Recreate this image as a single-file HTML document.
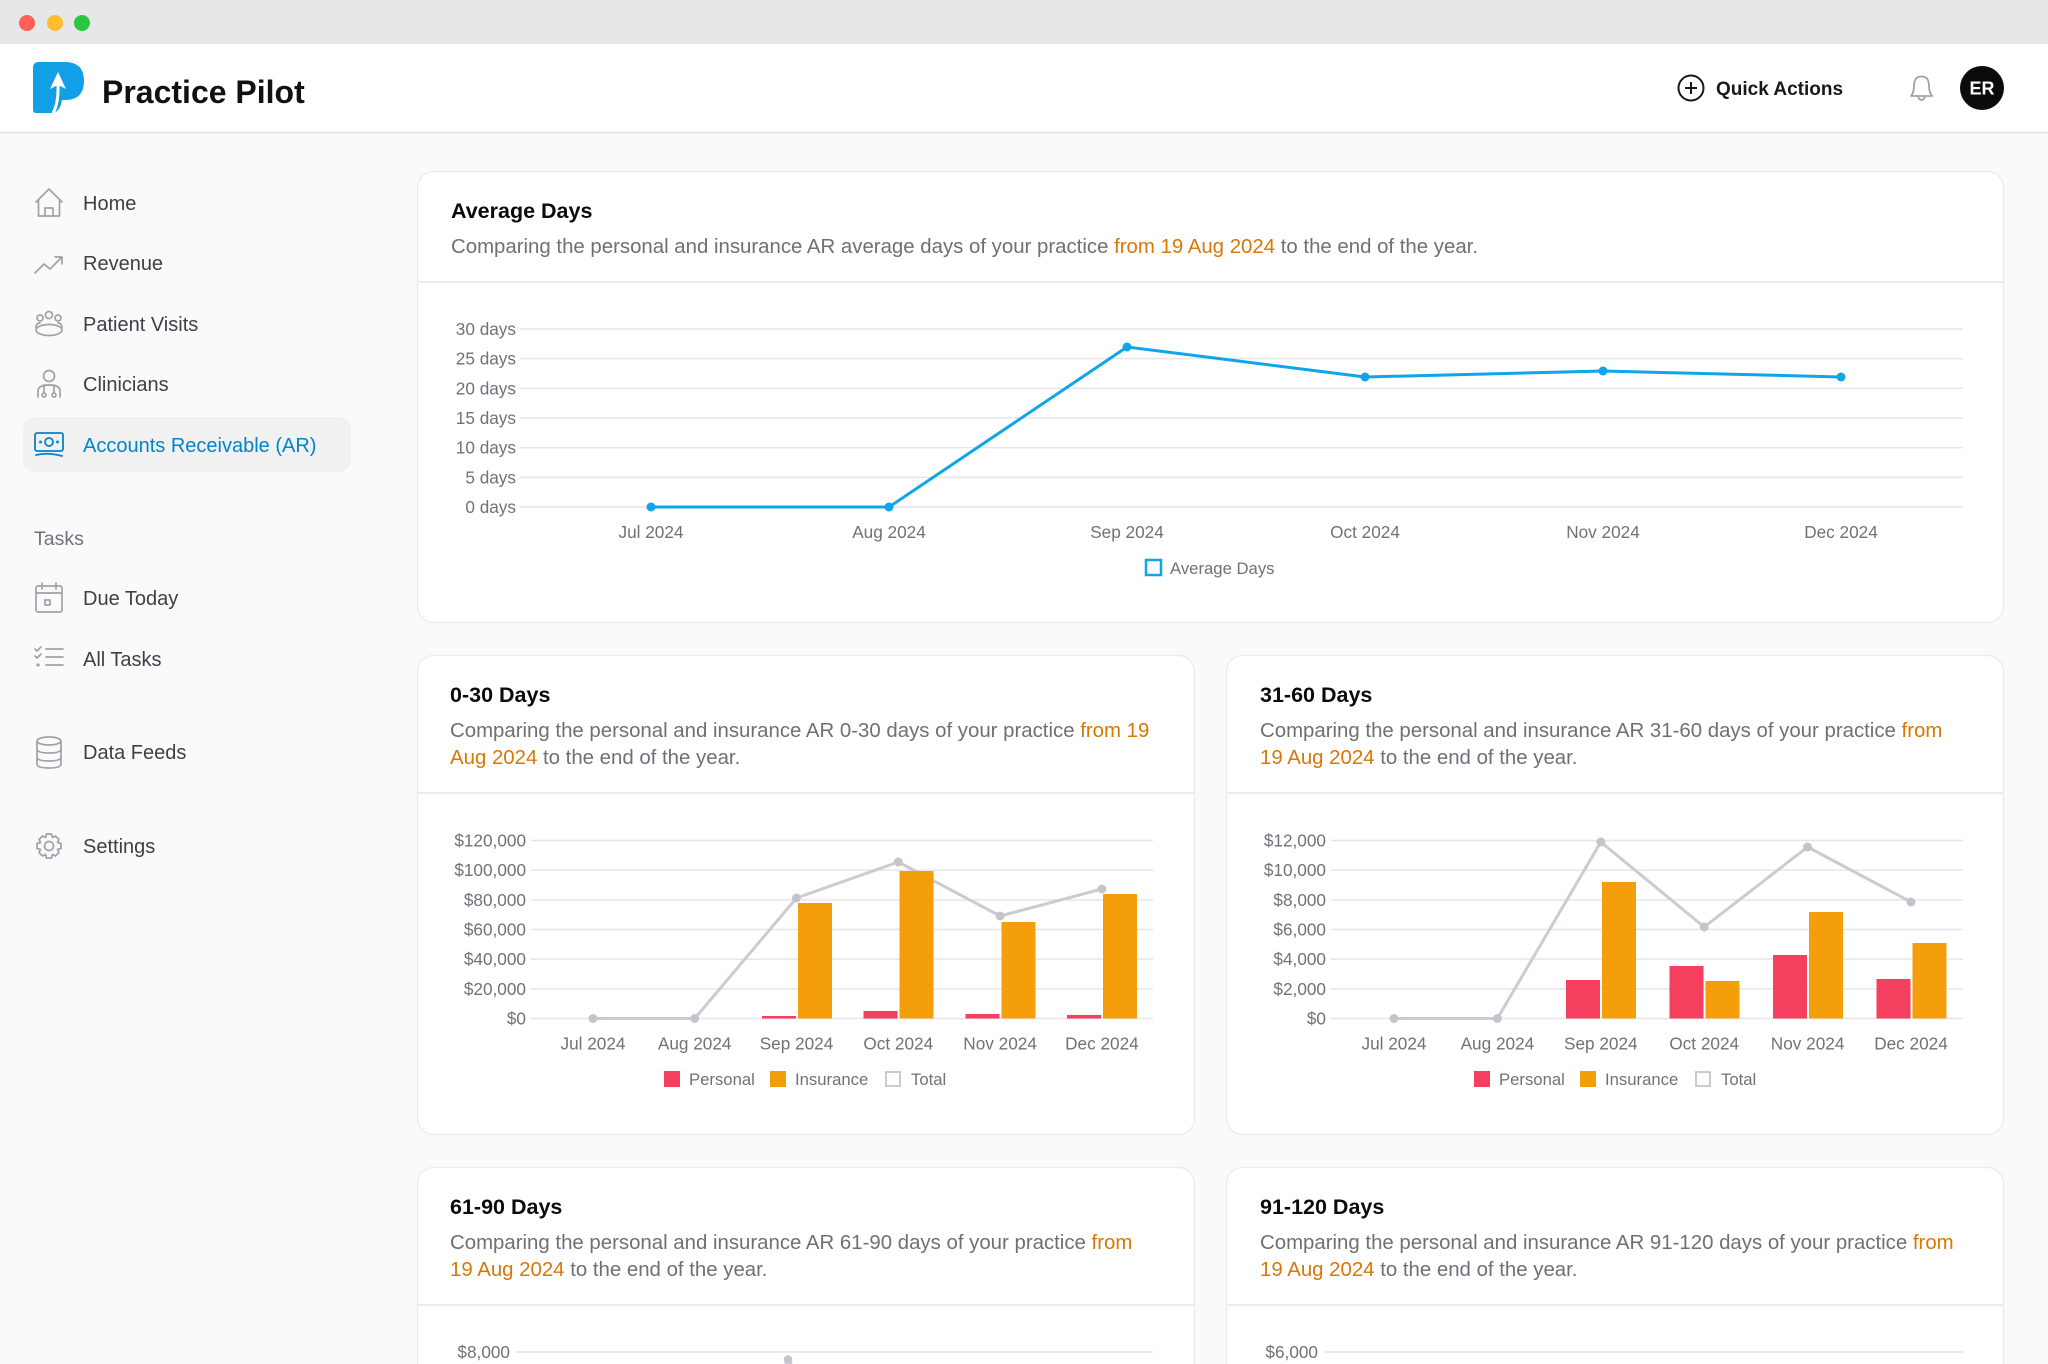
<!DOCTYPE html>
<html>
<head>
<meta charset="utf-8">
<style>
html,body{margin:0;padding:0;width:2048px;height:1364px;overflow:hidden;background:#fafafa;}
svg{display:block;}
text{font-family:"Liberation Sans",sans-serif;}
</style>
</head>
<body>
<svg width="2048" height="1364" viewBox="0 0 2048 1364" xmlns="http://www.w3.org/2000/svg">
  <!-- page bg -->
  <rect x="0" y="0" width="2048" height="1364" fill="#fafafa"/>
  <!-- title bar -->
  <rect x="0" y="0" width="2048" height="44" fill="#e7e7e7"/>
  <circle cx="27" cy="23" r="8" fill="#fe5f57"/>
  <circle cx="55" cy="23" r="8" fill="#febc2e"/>
  <circle cx="82" cy="23" r="8" fill="#28c840"/>
  <!-- header -->
  <rect x="0" y="44" width="2048" height="88" fill="#ffffff"/>
  <line x1="0" y1="132.5" x2="2048" y2="132.5" stroke="#e4e4e4" stroke-width="1.5"/>
  <!-- logo -->
  <g transform="translate(33,62)">
    <path d="M0,6 Q0,0 6,0 H32 Q51,0 51,19 Q51,38 32,38 H29 Q27,51 18,51 H3 Q0,51 0,48 Z" fill="#129fe6"/>
    <path d="M25,10 L17,27 L25,23 L33,27 Z" fill="#ffffff"/>
    <path d="M25,23 Q25.5,42 20,51" stroke="#ffffff" stroke-width="3" fill="none"/>
  </g>
  <text x="102" y="103" font-size="32" font-weight="700" fill="#111111">Practice Pilot</text>

  <!-- quick actions -->
  <circle cx="1691" cy="88" r="12.5" fill="none" stroke="#18181b" stroke-width="2"/>
  <line x1="1691" y1="82" x2="1691" y2="94" stroke="#18181b" stroke-width="2"/>
  <line x1="1685" y1="88" x2="1697" y2="88" stroke="#18181b" stroke-width="2"/>
  <text x="1716" y="95" font-size="19" font-weight="700" fill="#18181b">Quick Actions</text>
  <!-- bell -->
  <path d="M1911,96 Q1914,92 1914,86 Q1914,76.5 1921.5,76.5 Q1929,76.5 1929,86 Q1929,92 1932,96 Z" fill="none" stroke="#a1a1aa" stroke-width="1.8" stroke-linejoin="round"/>
  <path d="M1918,97 Q1921.5,103 1925,97" fill="none" stroke="#a1a1aa" stroke-width="1.8"/>
  <!-- avatar -->
  <circle cx="1982" cy="88" r="22" fill="#0b0b0b"/>
  <text x="1982" y="94.5" font-size="18" font-weight="700" fill="#ffffff" text-anchor="middle">ER</text>

  <!-- sidebar -->
  <rect x="23" y="417" width="328" height="55" rx="12" fill="#f1f1f1"/>
  <g fill="none" stroke="#a1a1aa" stroke-width="1.7" stroke-linecap="round" stroke-linejoin="round">
    <!-- home -->
    <path d="M36,202 L49,189 L62,202 M38.5,199.5 V216 H59.5 V199.5 M45,216 V208 H53 V216"/>
    <!-- revenue -->
    <path d="M35,273 L44,264 L50,269 L62,257 M55,257 H62 V264"/>
    <!-- patient visits -->
    <circle cx="40" cy="318" r="3"/>
    <circle cx="49" cy="315" r="3.5"/>
    <circle cx="58" cy="318" r="3"/>
    <path d="M36,328 Q36,323 40,323 M62,328 Q62,323 58,323"/>
    <ellipse cx="49" cy="330" rx="13" ry="5.5"/>
    <!-- clinicians -->
    <circle cx="49" cy="376" r="5.5"/>
    <path d="M38,397 V391 Q38,385 49,385 Q60,385 60,391 V397 M44,385 V392 M54,385 V392"/>
    <circle cx="44" cy="395" r="2"/>
    <circle cx="54" cy="395" r="2"/>
    <!-- due today -->
    <rect x="36" y="586" width="26" height="26" rx="2"/>
    <path d="M36,593 H62 M42,583 V589 M56,583 V589"/>
    <rect x="45" y="600" width="5" height="5"/>
    <!-- all tasks -->
    <path d="M35,649 L37,651 L41,647 M35,656 L37,658 L41,654 M46,649 H63 M46,657 H63 M46,665 H63"/>
    <circle cx="38" cy="665" r="0.8"/>
    <!-- data feeds -->
    <ellipse cx="49" cy="741" rx="12" ry="4"/>
    <path d="M37,741 V764 Q37,768 49,768 Q61,768 61,764 V741 M37,749 Q37,753 49,753 Q61,753 61,749 M37,757 Q37,761 49,761 Q61,761 61,757"/>
    <!-- settings -->
    <circle cx="49" cy="846" r="4.5"/>
    <path d="M46.5,834 L51.5,834 L52.5,837.5 L55.5,836 L59,839.5 L57.5,842.5 L61,843.5 L61,848.5 L57.5,849.5 L59,852.5 L55.5,856 L52.5,854.5 L51.5,858 L46.5,858 L45.5,854.5 L42.5,856 L39,852.5 L40.5,849.5 L37,848.5 L37,843.5 L40.5,842.5 L39,839.5 L42.5,836 L45.5,837.5 Z"/>
  </g>
  <!-- AR icon -->
  <g fill="none" stroke="#0284c7" stroke-width="1.8" stroke-linecap="round">
    <rect x="35" y="433" width="28" height="18" rx="2"/>
    <circle cx="49" cy="442" r="4"/>
    <circle cx="40.5" cy="442" r="0.6"/>
    <circle cx="57.5" cy="442" r="0.6"/>
    <path d="M36,455 Q48,452 62,456"/>
  </g>
  <g font-size="20" fill="#3f3f46">
    <text x="83" y="210">Home</text>
    <text x="83" y="270">Revenue</text>
    <text x="83" y="331">Patient Visits</text>
    <text x="83" y="391">Clinicians</text>
    <text x="83" y="452" fill="#0284c7">Accounts Receivable (AR)</text>
    <text x="83" y="605">Due Today</text>
    <text x="83" y="666">All Tasks</text>
    <text x="83" y="759">Data Feeds</text>
    <text x="83" y="853">Settings</text>
  </g>
  <text x="34" y="545" font-size="19.5" fill="#71717a">Tasks</text>

  <!-- ============ Card 1: Average Days ============ -->
  <rect x="417.5" y="171.5" width="1586" height="451" rx="16" fill="#ffffff" stroke="#ebebeb" stroke-width="1.2"/>
  <line x1="418" y1="282" x2="2003" y2="282" stroke="#ececec" stroke-width="2"/>
  <text x="451" y="218" font-size="21.5" font-weight="700" fill="#0b0b0b">Average Days</text>
  <text x="451" y="253" font-size="20.4" fill="#6f6f77">Comparing the personal and insurance AR average days of your practice <tspan fill="#d97706">from 19 Aug 2024</tspan> to the end of the year.</text>
  <g stroke="#e6e6e9" stroke-width="1.5">
    <line x1="520" y1="329" x2="1963" y2="329"/>
    <line x1="520" y1="358.67" x2="1963" y2="358.67"/>
    <line x1="520" y1="388.33" x2="1963" y2="388.33"/>
    <line x1="520" y1="418" x2="1963" y2="418"/>
    <line x1="520" y1="447.67" x2="1963" y2="447.67"/>
    <line x1="520" y1="477.33" x2="1963" y2="477.33"/>
    <line x1="520" y1="507" x2="1963" y2="507"/>
  </g>
  <g font-size="17.2" fill="#71717a" text-anchor="end">
    <text x="516" y="335">30 days</text>
    <text x="516" y="364.7">25 days</text>
    <text x="516" y="394.3">20 days</text>
    <text x="516" y="424">15 days</text>
    <text x="516" y="453.7">10 days</text>
    <text x="516" y="483.3">5 days</text>
    <text x="516" y="513">0 days</text>
  </g>
  <g font-size="17.2" fill="#71717a" text-anchor="middle">
    <text x="651" y="538">Jul 2024</text>
    <text x="889" y="538">Aug 2024</text>
    <text x="1127" y="538">Sep 2024</text>
    <text x="1365" y="538">Oct 2024</text>
    <text x="1603" y="538">Nov 2024</text>
    <text x="1841" y="538">Dec 2024</text>
  </g>
  <polyline points="651,507 889,507 1127,347 1365,377 1603,371 1841,377" fill="none" stroke="#0ea5e9" stroke-width="3" stroke-linejoin="round"/>
  <g fill="#0ea5e9">
    <circle cx="651" cy="507" r="4.5"/>
    <circle cx="889" cy="507" r="4.5"/>
    <circle cx="1127" cy="347" r="4.5"/>
    <circle cx="1365" cy="377" r="4.5"/>
    <circle cx="1603" cy="371" r="4.5"/>
    <circle cx="1841" cy="377" r="4.5"/>
  </g>
  <rect x="1146" y="560" width="15" height="15" fill="#ffffff" stroke="#0ea5e9" stroke-width="2.5"/>
  <text x="1170" y="574" font-size="16.7" fill="#71717a">Average Days</text>

  <!-- ============ Card 2: 0-30 Days ============ -->
  <rect x="417.5" y="655.5" width="777" height="479" rx="16" fill="#ffffff" stroke="#ebebeb" stroke-width="1.2"/>
  <line x1="418" y1="793" x2="1194" y2="793" stroke="#ececec" stroke-width="2"/>
  <text x="450" y="702" font-size="21.5" font-weight="700" fill="#0b0b0b">0-30 Days</text>
  <text x="450" y="737" font-size="20.4" fill="#6f6f77">Comparing the personal and insurance AR 0-30 days of your practice <tspan fill="#d97706">from 19</tspan></text>
  <text x="450" y="764" font-size="20.4" fill="#6f6f77"><tspan fill="#d97706">Aug 2024</tspan> to the end of the year.</text>
  <g stroke="#e6e6e9" stroke-width="1.5">
    <line x1="531" y1="840.5" x2="1153" y2="840.5"/>
    <line x1="531" y1="870.17" x2="1153" y2="870.17"/>
    <line x1="531" y1="899.83" x2="1153" y2="899.83"/>
    <line x1="531" y1="929.5" x2="1153" y2="929.5"/>
    <line x1="531" y1="959.17" x2="1153" y2="959.17"/>
    <line x1="531" y1="988.83" x2="1153" y2="988.83"/>
    <line x1="531" y1="1018.5" x2="1153" y2="1018.5"/>
  </g>
  <g font-size="17.2" fill="#71717a" text-anchor="end">
    <text x="526" y="846.5">$120,000</text>
    <text x="526" y="876.2">$100,000</text>
    <text x="526" y="905.8">$80,000</text>
    <text x="526" y="935.5">$60,000</text>
    <text x="526" y="965.2">$40,000</text>
    <text x="526" y="994.8">$20,000</text>
    <text x="526" y="1024.5">$0</text>
  </g>
  <g font-size="17.2" fill="#71717a" text-anchor="middle">
    <text x="593" y="1049.5">Jul 2024</text>
    <text x="694.7" y="1049.5">Aug 2024</text>
    <text x="796.5" y="1049.5">Sep 2024</text>
    <text x="898.3" y="1049.5">Oct 2024</text>
    <text x="1000.1" y="1049.5">Nov 2024</text>
    <text x="1101.9" y="1049.5">Dec 2024</text>
  </g>
  <polyline points="593,1018.5 694.7,1018.5 796.5,898 898.3,862 1000.1,916 1101.9,889" fill="none" stroke="#c9ccd2" stroke-width="3" stroke-linejoin="round"/>
  <g fill="#c2c6cc">
    <circle cx="593" cy="1018.5" r="4.5"/>
    <circle cx="694.7" cy="1018.5" r="4.5"/>
    <circle cx="796.5" cy="898" r="4.5"/>
    <circle cx="898.3" cy="862" r="4.5"/>
    <circle cx="1000.1" cy="916" r="4.5"/>
    <circle cx="1101.9" cy="889" r="4.5"/>
  </g>
  <g fill="#f43f5e">
    <rect x="762" y="1016" width="34" height="2.5"/>
    <rect x="863.5" y="1011" width="34" height="7.5"/>
    <rect x="965.5" y="1014" width="34" height="4.5"/>
    <rect x="1067" y="1015" width="34" height="3.5"/>
  </g>
  <g fill="#f59e0b">
    <rect x="798" y="903" width="34" height="115.5"/>
    <rect x="899.5" y="871" width="34" height="147.5"/>
    <rect x="1001.5" y="922" width="34" height="96.5"/>
    <rect x="1103" y="894" width="34" height="124.5"/>
  </g>
  <rect x="664" y="1071" width="16" height="16" fill="#f43f5e"/>
  <text x="689" y="1085" font-size="16.7" fill="#71717a">Personal</text>
  <rect x="770" y="1071" width="16" height="16" fill="#f59e0b"/>
  <text x="795" y="1085" font-size="16.7" fill="#71717a">Insurance</text>
  <rect x="886" y="1072" width="14" height="14" fill="#ffffff" stroke="#c9ccd2" stroke-width="2"/>
  <text x="911" y="1085" font-size="16.7" fill="#71717a">Total</text>

  <!-- ============ Card 3: 31-60 Days ============ -->
  <rect x="1226.5" y="655.5" width="777" height="479" rx="16" fill="#ffffff" stroke="#ebebeb" stroke-width="1.2"/>
  <line x1="1227" y1="793" x2="2003" y2="793" stroke="#ececec" stroke-width="2"/>
  <text x="1260" y="702" font-size="21.5" font-weight="700" fill="#0b0b0b">31-60 Days</text>
  <text x="1260" y="737" font-size="20.4" fill="#6f6f77">Comparing the personal and insurance AR 31-60 days of your practice <tspan fill="#d97706">from</tspan></text>
  <text x="1260" y="764" font-size="20.4" fill="#6f6f77"><tspan fill="#d97706">19 Aug 2024</tspan> to the end of the year.</text>
  <g stroke="#e6e6e9" stroke-width="1.5">
    <line x1="1331" y1="840.5" x2="1963" y2="840.5"/>
    <line x1="1331" y1="870.17" x2="1963" y2="870.17"/>
    <line x1="1331" y1="899.83" x2="1963" y2="899.83"/>
    <line x1="1331" y1="929.5" x2="1963" y2="929.5"/>
    <line x1="1331" y1="959.17" x2="1963" y2="959.17"/>
    <line x1="1331" y1="988.83" x2="1963" y2="988.83"/>
    <line x1="1331" y1="1018.5" x2="1963" y2="1018.5"/>
  </g>
  <g font-size="17.2" fill="#71717a" text-anchor="end">
    <text x="1326" y="846.5">$12,000</text>
    <text x="1326" y="876.2">$10,000</text>
    <text x="1326" y="905.8">$8,000</text>
    <text x="1326" y="935.5">$6,000</text>
    <text x="1326" y="965.2">$4,000</text>
    <text x="1326" y="994.8">$2,000</text>
    <text x="1326" y="1024.5">$0</text>
  </g>
  <g font-size="17.2" fill="#71717a" text-anchor="middle">
    <text x="1394" y="1049.5">Jul 2024</text>
    <text x="1497.4" y="1049.5">Aug 2024</text>
    <text x="1600.8" y="1049.5">Sep 2024</text>
    <text x="1704.2" y="1049.5">Oct 2024</text>
    <text x="1807.6" y="1049.5">Nov 2024</text>
    <text x="1911" y="1049.5">Dec 2024</text>
  </g>
  <g fill="#f43f5e">
    <rect x="1566" y="980" width="34" height="38.5"/>
    <rect x="1669.5" y="966" width="34" height="52.5"/>
    <rect x="1773" y="955" width="34" height="63.5"/>
    <rect x="1876.5" y="979" width="34" height="39.5"/>
  </g>
  <g fill="#f59e0b">
    <rect x="1602" y="882" width="34" height="136.5"/>
    <rect x="1705.5" y="981" width="34" height="37.5"/>
    <rect x="1809" y="912" width="34" height="106.5"/>
    <rect x="1912.5" y="943" width="34" height="75.5"/>
  </g>
  <polyline points="1394,1018.5 1497.4,1018.5 1600.8,842 1704.2,927 1807.6,847 1911,902" fill="none" stroke="#c9ccd2" stroke-width="3" stroke-linejoin="round"/>
  <g fill="#c2c6cc">
    <circle cx="1394" cy="1018.5" r="4.5"/>
    <circle cx="1497.4" cy="1018.5" r="4.5"/>
    <circle cx="1600.8" cy="842" r="4.5"/>
    <circle cx="1704.2" cy="927" r="4.5"/>
    <circle cx="1807.6" cy="847" r="4.5"/>
    <circle cx="1911" cy="902" r="4.5"/>
  </g>
  <rect x="1474" y="1071" width="16" height="16" fill="#f43f5e"/>
  <text x="1499" y="1085" font-size="16.7" fill="#71717a">Personal</text>
  <rect x="1580" y="1071" width="16" height="16" fill="#f59e0b"/>
  <text x="1605" y="1085" font-size="16.7" fill="#71717a">Insurance</text>
  <rect x="1696" y="1072" width="14" height="14" fill="#ffffff" stroke="#c9ccd2" stroke-width="2"/>
  <text x="1721" y="1085" font-size="16.7" fill="#71717a">Total</text>

  <!-- ============ Card 4: 61-90 Days (cut off at bottom) ============ -->
  <path d="M417.5,1364 V1183.5 A16,16 0 0 1 433.5,1167.5 H1178.5 A16,16 0 0 1 1194.5,1183.5 V1364" fill="#ffffff" stroke="#ebebeb" stroke-width="1.2"/>
  <line x1="418" y1="1305" x2="1194" y2="1305" stroke="#ececec" stroke-width="2"/>
  <text x="450" y="1214" font-size="21.5" font-weight="700" fill="#0b0b0b">61-90 Days</text>
  <text x="450" y="1249" font-size="20.4" fill="#6f6f77">Comparing the personal and insurance AR 61-90 days of your practice <tspan fill="#d97706">from</tspan></text>
  <text x="450" y="1276" font-size="20.4" fill="#6f6f77"><tspan fill="#d97706">19 Aug 2024</tspan> to the end of the year.</text>
  <line x1="516" y1="1352" x2="1153" y2="1352" stroke="#e6e6e9" stroke-width="1.5"/>
  <text x="510" y="1358" font-size="17.2" fill="#71717a" text-anchor="end">$8,000</text>
  <polyline points="785.5,1364 788,1360 791.5,1364" fill="none" stroke="#c9ccd2" stroke-width="3" stroke-linejoin="round"/>
  <circle cx="788" cy="1359.5" r="4.3" fill="#c2c6cc"/>

  <!-- ============ Card 5: 91-120 Days (cut off at bottom) ============ -->
  <path d="M1226.5,1364 V1183.5 A16,16 0 0 1 1242.5,1167.5 H1987.5 A16,16 0 0 1 2003.5,1183.5 V1364" fill="#ffffff" stroke="#ebebeb" stroke-width="1.2"/>
  <line x1="1227" y1="1305" x2="2003" y2="1305" stroke="#ececec" stroke-width="2"/>
  <text x="1260" y="1214" font-size="21.5" font-weight="700" fill="#0b0b0b">91-120 Days</text>
  <text x="1260" y="1249" font-size="20.4" fill="#6f6f77">Comparing the personal and insurance AR 91-120 days of your practice <tspan fill="#d97706">from</tspan></text>
  <text x="1260" y="1276" font-size="20.4" fill="#6f6f77"><tspan fill="#d97706">19 Aug 2024</tspan> to the end of the year.</text>
  <line x1="1325" y1="1352" x2="1963" y2="1352" stroke="#e6e6e9" stroke-width="1.5"/>
  <text x="1318" y="1358" font-size="17.2" fill="#71717a" text-anchor="end">$6,000</text>
</svg>
</body>
</html>
